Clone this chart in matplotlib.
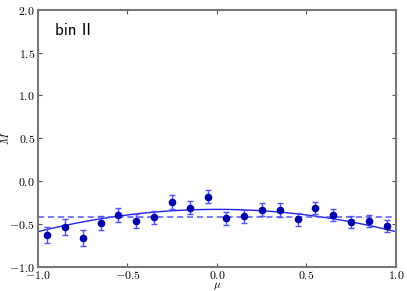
import numpy as np
import matplotlib
matplotlib.use('Agg')
import matplotlib.pyplot as plt

plt.rcParams['font.family'] = 'serif'
plt.rcParams['font.serif'] = ['cmr10']
plt.rcParams['mathtext.fontset'] = 'cm'
plt.rcParams['axes.formatter.use_mathtext'] = True

# datos
mu = np.array([-0.95, -0.85, -0.75, -0.65, -0.55, -0.45, -0.35, -0.25, -0.15, -0.05,
               0.05, 0.15, 0.25, 0.35, 0.45, 0.55, 0.65, 0.75, 0.85, 0.95])
M = np.array([-0.623, -0.53, -0.658, -0.485, -0.392, -0.465, -0.419, -0.238, -0.308, -0.181,
              -0.431, -0.408, -0.331, -0.335, -0.442, -0.315, -0.396, -0.477, -0.462, -0.523])
err = np.array([0.094, 0.094, 0.09, 0.085, 0.083, 0.08, 0.077, 0.08, 0.077, 0.075,
                0.075, 0.077, 0.077, 0.077, 0.073, 0.071, 0.069, 0.071, 0.069, 0.071])
media = -0.415
coef = [-0.26, 0.0, -0.327]  # c2, c1, c0

fig = plt.figure(figsize=(4.07, 2.91), dpi=100)
ax = fig.add_axes([0.093, 0.082, 0.88, 0.885])

xs = np.linspace(-1, 1, 200)
ax.plot(xs, np.polyval(coef, xs), '-', color='#2222ee', lw=1.0)
ax.axhline(media, color='#5555ff', ls=(0, (4, 2.5)), lw=1.1)
ax.errorbar(mu, M, yerr=err, fmt='o', color='#0000aa', ms=4.5, mec='#0000aa',
            ecolor='#5050ff', elinewidth=1.0, capsize=2, capthick=1.0)

ax.set_xlim(-1, 1)
ax.set_ylim(-1, 2)
ax.set_xticks([-1.0, -0.5, 0.0, 0.5, 1.0])
ax.set_yticks([-1.0, -0.5, 0.0, 0.5, 1.0, 1.5, 2.0])
ax.set_xticklabels(['$-1.0$', '$-0.5$', '$0.0$', '$0.5$', '$1.0$'])
ax.set_yticklabels(['$-1.0$', '$-0.5$', '$0.0$', '$0.5$', '$1.0$', '$1.5$', '$2.0$'])
ax.tick_params(direction='in', top=True, right=True, labelsize=8.5, length=3,
               color='#555555', pad=2)
ax.tick_params(axis='x', pad=1)
for s in ax.spines.values():
    s.set_color('#777777')
    s.set_linewidth(1.5)
ax.set_xlabel(r'$\mu$', fontsize=8)
ax.set_ylabel(r'$M$', fontsize=8)
ax.xaxis.set_label_coords(0.5, -0.05)
ax.yaxis.set_label_coords(-0.074, 0.5)

ax.text(-0.905, 1.76, 'bin II', family='cmss10', fontsize=12, va='center')

plt.savefig('out.png', dpi=100)
